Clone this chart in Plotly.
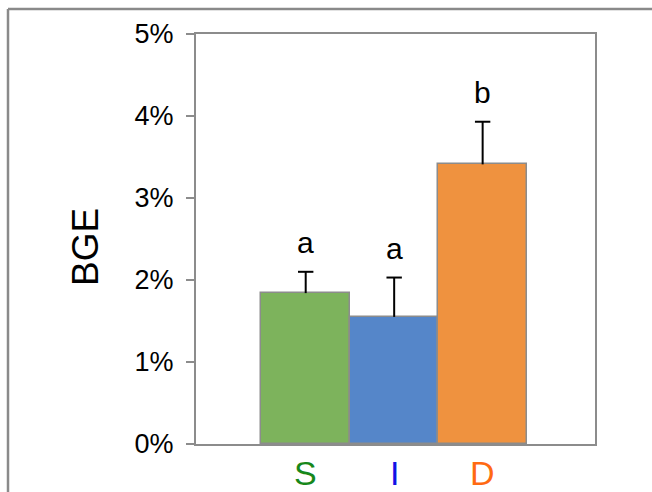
import plotly.graph_objects as go

# Bacterial growth efficiency by treatment
categories = ["S", "I", "D"]
bge = [0.0184, 0.0155, 0.0341]          # mean BGE (fraction)
bge_err = [0.0026, 0.0048, 0.0052]      # upper error (fraction)
group_letters = ["a", "a", "b"]
bar_colors = ["#7db35c", "#5586c9", "#ef923f"]
label_colors = ["#17881a", "#1212e6", "#ff6a12"]

W, H = 652, 492
L, R, T, B = 196, 57, 34, 48
plot_w, plot_h = W - L - R, H - T - B
FONT = "Arial, Liberation Sans, Helvetica, sans-serif"


def px_x(px):
    return (px - L) / plot_w


def px_y(py):
    return (H - B - py) / plot_h


fig = go.Figure()
fig.add_trace(go.Bar(
    x=categories,
    y=bge,
    width=1.0,
    marker=dict(color=bar_colors, line=dict(color="#8c8c8c", width=1.5)),
    error_y=dict(type="data", symmetric=False, array=bge_err,
                 arrayminus=[0] * len(bge), color="black",
                 thickness=2, width=0),
))
# caps on the upper end of the error bars only
fig.add_trace(go.Scatter(
    x=categories,
    y=[v + e for v, e in zip(bge, bge_err)],
    mode="markers",
    marker=dict(symbol="line-ew", size=11, color="black",
                line=dict(color="black", width=2)),
    hoverinfo="skip",
))

annotations = []
for cat, v, e, letter, col in zip(categories, bge, bge_err, group_letters, label_colors):
    annotations.append(dict(
        x=cat, y=v + e, xref="x", yref="y", text=letter, showarrow=False,
        yanchor="middle", yshift=29,
        font=dict(family=FONT, size=30, color="black"),
    ))
    annotations.append(dict(
        x=cat, y=px_y(452), xref="x", yref="paper", text=cat, showarrow=False,
        yanchor="top", font=dict(family=FONT, size=34, color=col),
    ))

annotations.append(dict(
    x=px_x(85), y=px_y(247), xref="paper", yref="paper", text="BGE",
    showarrow=False, textangle=-90, xanchor="center", yanchor="middle",
    font=dict(family=FONT, size=37, color="black"),
))

# outer frame (top and left edges)
frame = dict(color="#8a8a8a", width=2.5)
shapes = [
    dict(type="line", xref="paper", yref="paper", x0=px_x(8), x1=px_x(660),
         y0=px_y(9), y1=px_y(9), line=frame),
    dict(type="line", xref="paper", yref="paper", x0=px_x(8), x1=px_x(8),
         y0=px_y(9), y1=px_y(500), line=frame),
]

fig.update_layout(
    width=W, height=H,
    margin=dict(l=L, r=R, t=T, b=B, pad=0),
    paper_bgcolor="white", plot_bgcolor="white",
    showlegend=False, bargap=0,
    annotations=annotations, shapes=shapes,
    font=dict(family=FONT, color="black"),
)
fig.update_xaxes(
    range=[-1.24, 3.27], showticklabels=False, ticks="",
    showline=True, mirror=True, linecolor="#8c8c8c", linewidth=2,
    showgrid=False, zeroline=False, fixedrange=True,
)
fig.update_yaxes(
    range=[0, 0.05], tickvals=[0, 0.01, 0.02, 0.03, 0.04, 0.05],
    tickformat=".0%", ticks="outside", ticklen=8, tickwidth=2,
    tickcolor="#8c8c8c", ticklabelstandoff=7,
    tickfont=dict(family=FONT, size=27, color="black"),
    showline=True, mirror=True, linecolor="#8c8c8c", linewidth=2,
    showgrid=False, zeroline=False, fixedrange=True,
)

fig.write_html("out.html")
